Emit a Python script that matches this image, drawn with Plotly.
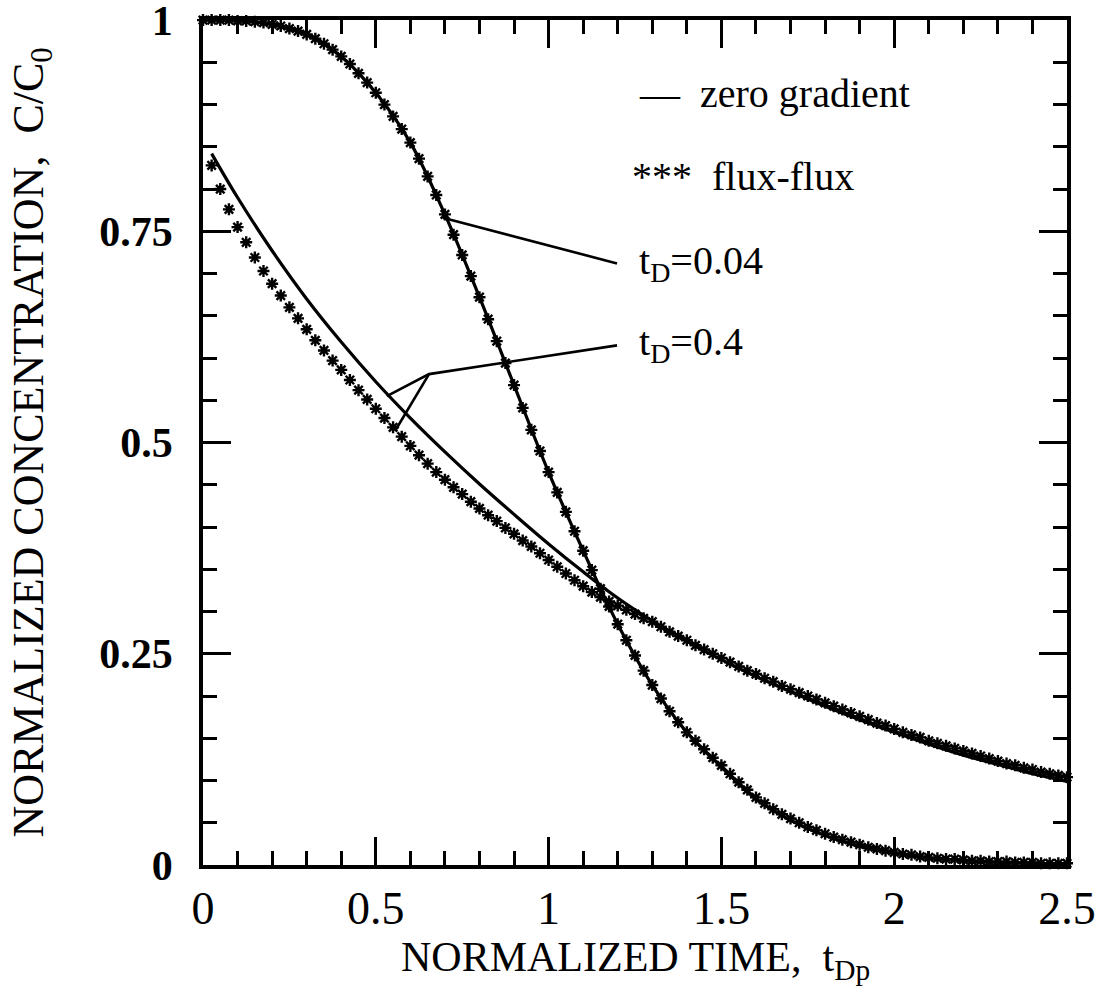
import plotly.graph_objects as go

# ---------------- data ----------------
# t_D = 0.04 : flux-flux (stars), every 0.025 from 0 to 2.5
t_a_star = [round(0.025 * k, 3) for k in range(0, 101)]
c_a_star = [
    1.000, 1.000, 1.000, 1.000, 0.999, 0.999, 0.998, 0.997, 0.995, 0.993,
    0.990, 0.987, 0.983, 0.978, 0.972, 0.965, 0.957, 0.948, 0.937, 0.926,
    0.914, 0.900, 0.886, 0.871, 0.855, 0.836, 0.815, 0.793, 0.770, 0.746,
    0.722, 0.697, 0.672, 0.646, 0.620, 0.594, 0.568, 0.541, 0.515, 0.490,
    0.465, 0.441, 0.418, 0.395, 0.372, 0.349, 0.327, 0.306, 0.285, 0.266,
    0.248, 0.230, 0.213, 0.197, 0.182, 0.169, 0.157, 0.147, 0.137, 0.127,
    0.118, 0.108, 0.098, 0.089, 0.080, 0.073, 0.066, 0.060, 0.055, 0.050,
    0.045, 0.041, 0.037, 0.033, 0.030, 0.027, 0.024, 0.021, 0.019, 0.017,
    0.015, 0.013, 0.012, 0.010, 0.009, 0.008, 0.007, 0.007, 0.006, 0.005,
    0.005, 0.004, 0.004, 0.004, 0.003, 0.003, 0.003, 0.002, 0.002, 0.002,
    0.002,
]

# t_D = 0.04 : zero gradient (solid)
t_a_line = [0.0, 0.1, 0.2, 0.3, 0.4, 0.5, 0.6, 0.7, 0.8, 0.9, 1.0, 1.1, 1.2,
            1.3, 1.4, 1.5, 1.6, 1.7, 1.8, 1.9, 2.0, 2.1, 2.2, 2.3, 2.4, 2.5]
c_a_line = [1.000, 0.999, 0.995, 0.983, 0.957, 0.914, 0.855, 0.770, 0.672,
            0.568, 0.465, 0.372, 0.285, 0.213, 0.157, 0.116, 0.078, 0.053,
            0.035, 0.022, 0.014, 0.008, 0.005, 0.003, 0.002, 0.001]

# t_D = 0.4 : flux-flux (stars), every 0.025 from 0.025 to 2.5
t_b_star = [round(0.025 * k, 3) for k in range(1, 101)]
c_b_star = [
    0.828, 0.800, 0.776, 0.755, 0.737, 0.719, 0.703, 0.688, 0.674, 0.660,
    0.647, 0.634, 0.621, 0.609, 0.597, 0.586, 0.574, 0.562, 0.551, 0.540,
    0.529, 0.518, 0.507, 0.496, 0.485, 0.475, 0.465, 0.456, 0.447, 0.439,
    0.430, 0.422, 0.414, 0.407, 0.399, 0.392, 0.384, 0.377, 0.369, 0.361,
    0.353, 0.345, 0.337, 0.330, 0.323, 0.317, 0.312, 0.307, 0.302, 0.297,
    0.292, 0.288, 0.282, 0.276, 0.271, 0.266, 0.260, 0.255, 0.250, 0.245,
    0.240, 0.235, 0.230, 0.226, 0.221, 0.217, 0.212, 0.208, 0.204, 0.200,
    0.196, 0.192, 0.188, 0.184, 0.180, 0.176, 0.172, 0.168, 0.165, 0.161,
    0.157, 0.154, 0.151, 0.147, 0.144, 0.141, 0.138, 0.135, 0.132, 0.129,
    0.126, 0.123, 0.120, 0.118, 0.115, 0.113, 0.110, 0.108, 0.106, 0.104,
]

# t_D = 0.4 : zero gradient (solid)
t_b_line = [0.025, 0.1, 0.2, 0.3, 0.4, 0.5, 0.6, 0.7, 0.8, 0.9, 1.0, 1.1, 1.2,
            1.3, 1.4, 1.5, 1.6, 1.7, 1.8, 1.9, 2.0, 2.1, 2.2, 2.3, 2.4, 2.5]
c_b_line = [0.842, 0.790, 0.727, 0.670, 0.619, 0.572, 0.529, 0.489, 0.451,
            0.415, 0.380, 0.347, 0.316, 0.289, 0.265, 0.243, 0.223, 0.205,
            0.188, 0.172, 0.157, 0.143, 0.130, 0.119, 0.108, 0.099]

# leader lines (data coordinates)
lead_a_t = [0.694, 1.198]
lead_a_c = [0.766, 0.712]
lead_b_t = [0.532, 0.654, 1.198, None, 0.556, 0.654]
lead_b_c = [0.555, 0.581, 0.615, None, 0.514, 0.581]

x_tickvals = [0, 0.5, 1, 1.5, 2, 2.5]
x_ticktext = ["0", "0.5", "1", "1.5", "2", "2.5"]
y_tickvals = [0, 0.25, 0.5, 0.75, 1]
y_ticktext = ["0", "0.25", "0.5", "0.75", "1"]

# ---------------- figure ----------------
FONT = "Liberation Serif, Times New Roman, Times, serif"
BLACK = "#000000"

fig = go.Figure()

star_marker = dict(symbol="asterisk-open", size=10, color=BLACK,
                   line=dict(width=2.4, color=BLACK))

fig.add_trace(go.Scatter(x=t_a_line, y=c_a_line, mode="lines",
                         line=dict(color=BLACK, width=3.2, shape="spline"),
                         cliponaxis=False, showlegend=False))
fig.add_trace(go.Scatter(x=t_a_star, y=c_a_star, mode="markers",
                         marker=star_marker, cliponaxis=False, showlegend=False))
fig.add_trace(go.Scatter(x=t_b_line, y=c_b_line, mode="lines",
                         line=dict(color=BLACK, width=3.2, shape="spline"),
                         cliponaxis=False, showlegend=False))
fig.add_trace(go.Scatter(x=t_b_star, y=c_b_star, mode="markers",
                         marker=star_marker, cliponaxis=False, showlegend=False))
fig.add_trace(go.Scatter(x=lead_a_t, y=lead_a_c, mode="lines",
                         line=dict(color=BLACK, width=2.6), showlegend=False))
fig.add_trace(go.Scatter(x=lead_b_t, y=lead_b_c, mode="lines",
                         line=dict(color=BLACK, width=2.6), showlegend=False,
                         connectgaps=False))

axis_common = dict(
    showline=True, linecolor=BLACK, linewidth=3.5, mirror="ticks",
    ticks="inside", ticklen=28, tickwidth=3, tickcolor=BLACK,
    showgrid=False, zeroline=False, ticklabeloverflow="allow",
    automargin=False,
)

fig.update_xaxes(range=[0, 2.5], tickvals=x_tickvals, ticktext=x_ticktext,
                 minor=dict(dtick=0.1, ticks="inside", ticklen=14, tickwidth=2.5,
                            tickcolor=BLACK, showgrid=False),
                 tickfont=dict(family=FONT, size=46, color=BLACK),
                 ticklabelstandoff=0, **axis_common)
fig.update_yaxes(range=[0, 1.0001], tickvals=y_tickvals, ticktext=y_ticktext,
                 minor=dict(dtick=0.05, ticks="inside", ticklen=14, tickwidth=2.5,
                            tickcolor=BLACK, showgrid=False),
                 tickfont=dict(family=FONT, size=42, color=BLACK, weight="bold"),
                 ticklabelstandoff=18, **axis_common)

ann_font = dict(family=FONT, size=40, color=BLACK)
annotations = [
    dict(x=0.5, y=-0.112, xref="paper", yref="paper", xanchor="center",
         yanchor="middle", showarrow=False,
         text="NORMALIZED TIME,  t<sub>Dp</sub>",
         font=dict(family=FONT, size=42, color=BLACK)),
    dict(x=-0.199, y=0.5, xref="paper", yref="paper", xanchor="center",
         yanchor="middle", showarrow=False, textangle=-90,
         text="NORMALIZED CONCENTRATION,  C/C<sub>0</sub>",
         font=dict(family=FONT, size=44, color=BLACK)),
    dict(x=1.255, y=0.913, xref="x", yref="y", xanchor="left", yanchor="middle",
         showarrow=False, text="—  zero gradient", font=ann_font),
    dict(x=1.235, y=0.815, xref="x", yref="y", xanchor="left", yanchor="middle",
         showarrow=False, text="***  flux-flux", font=ann_font),
    dict(x=1.255, y=0.712, xref="x", yref="y", xanchor="left", yanchor="middle",
         showarrow=False, text="t<sub>D</sub>=0.04", font=ann_font),
    dict(x=1.255, y=0.617, xref="x", yref="y", xanchor="left", yanchor="middle",
         showarrow=False, text="t<sub>D</sub>=0.4", font=ann_font),
]

fig.update_layout(
    width=1111, height=1002,
    margin=dict(l=203, r=44, t=20, b=137, autoexpand=False),
    paper_bgcolor="white", plot_bgcolor="white",
    annotations=annotations,
    showlegend=False,
    font=dict(family=FONT, color=BLACK),
)

fig.write_html("out.html")
